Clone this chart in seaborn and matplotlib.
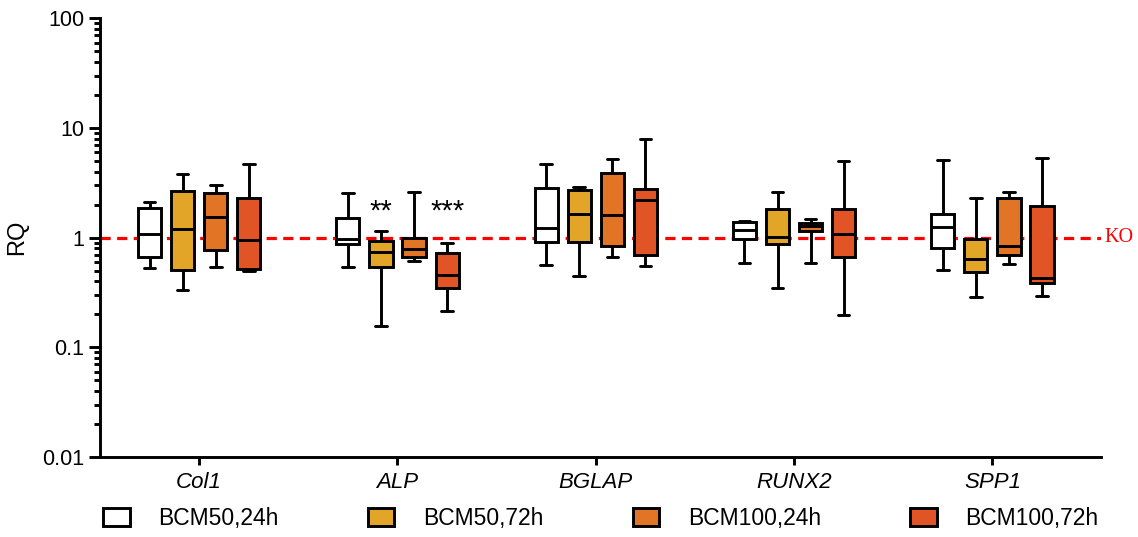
import pandas as pd
import numpy as np
import matplotlib
matplotlib.use("Agg")
import matplotlib.pyplot as plt
from matplotlib.patches import Patch
from matplotlib.ticker import FixedLocator, LogLocator, FuncFormatter, NullFormatter
import seaborn as sns

sns.set_style("ticks")
plt.rcParams['font.family'] = ['Liberation Sans', 'DejaVu Sans']
for k in ["text.color", "axes.labelcolor", "xtick.color", "ytick.color", "axes.edgecolor"]:
    plt.rcParams[k] = "black"

genes = ["Col1", "ALP", "BGLAP", "RUNX2", "SPP1"]
conditions = ["BCM50,24h", "BCM50,72h", "BCM100,24h", "BCM100,72h"]
colors = ["#FFFFFF", "#E3A528", "#E27426", "#E05426"]

# five-number summaries per gene: min, q1, median, q3, max
bcm50_24h = [[0.53, 0.67, 1.08, 1.85, 2.12],
             [0.54, 0.87, 0.98, 1.50, 2.53],
             [0.56, 0.92, 1.23, 2.84, 4.74],
             [0.59, 0.98, 1.17, 1.40, 1.42],
             [0.51, 0.80, 1.25, 1.63, 5.08]]
bcm50_72h = [[0.33, 0.51, 1.21, 2.67, 3.77],
             [0.157, 0.535, 0.74, 0.93, 1.15],
             [0.45, 0.92, 1.64, 2.71, 2.90],
             [0.35, 0.87, 1.02, 1.81, 2.58],
             [0.285, 0.49, 0.64, 0.98, 2.28]]
bcm100_24h = [[0.54, 0.77, 1.53, 2.56, 3.05],
              [0.61, 0.67, 0.78, 1.00, 2.58],
              [0.66, 0.84, 1.61, 3.85, 5.19],
              [0.59, 1.15, 1.27, 1.36, 1.47],
              [0.57, 0.70, 0.84, 2.31, 2.58]]
bcm100_72h = [[0.50, 0.52, 0.95, 2.32, 4.65],
              [0.215, 0.344, 0.455, 0.727, 0.897],
              [0.553, 0.70, 2.20, 2.75, 7.85],
              [0.197, 0.67, 1.07, 1.83, 5.01],
              [0.295, 0.383, 0.43, 1.94, 5.27]]

rows = []
for cond, series in zip(conditions, [bcm50_24h, bcm50_72h, bcm100_24h, bcm100_72h]):
    for gene, stats in zip(genes, series):
        for v in stats:
            rows.append({"gene": gene, "condition": cond, "RQ": v})
df = pd.DataFrame(rows)

fig = plt.figure(figsize=(11.38, 5.37), dpi=100)
ax = fig.add_axes([0.0879, 0.149, 0.88, 0.817])

lw = 2.1
sns.boxplot(data=df, x="gene", y="RQ", hue="condition", order=genes,
            hue_order=conditions, palette=colors, whis=(0, 100),
            width=0.667, gap=0.3, linecolor="black", linewidth=lw,
            log_scale=True, legend=False, ax=ax, saturation=1)

# reference line at RQ = 1
ax.axhline(1, color="#FF0000", lw=2.3, ls=(0, (3.2, 2.0)), zorder=0.5)
ax.text(4.563, 1, "KO", color="#FF0000", fontsize=14.5, va="center", ha="left",
        family=["Liberation Serif", "DejaVu Serif"], clip_on=False)

# significance marks over ALP
ax.text(1 - 0.083, 1.72, "**", fontsize=21, ha="center", va="center")
ax.text(1 + 0.25, 1.72, "***", fontsize=21, ha="center", va="center")

ax.set_ylim(0.01, 100)
ax.set_xlim(-0.5, 4.55)
ax.yaxis.set_major_locator(FixedLocator([0.01, 0.1, 1, 10, 100]))
ax.yaxis.set_major_formatter(FuncFormatter(lambda v, p: f"{v:g}"))
ax.yaxis.set_minor_locator(LogLocator(base=10, subs=np.arange(2, 10)))
ax.yaxis.set_minor_formatter(NullFormatter())

ax.set_xlabel("")
ax.set_ylabel("RQ", fontsize=17, labelpad=10)
for lab in ax.get_xticklabels():
    lab.set_fontstyle("italic")
ax.tick_params(axis="x", labelsize=16, length=6, width=lw, pad=5)
ax.tick_params(axis="y", which="major", labelsize=15.5, length=8, width=lw)
ax.tick_params(axis="y", which="minor", length=4.5, width=lw)

sns.despine(ax=ax)
for s in ["left", "bottom"]:
    ax.spines[s].set_linewidth(lw)

handles = [Patch(facecolor=c, edgecolor="black", linewidth=lw, label=l)
           for c, l in zip(colors, conditions)]
fig.legend(handles=handles, loc="center", bbox_to_anchor=(0.528, 0.034),
           ncol=4, frameon=False, fontsize=16.5, handlelength=1.15,
           handleheight=0.85, handletextpad=1.25, columnspacing=3.9)

fig.savefig("out.png", dpi=100)
